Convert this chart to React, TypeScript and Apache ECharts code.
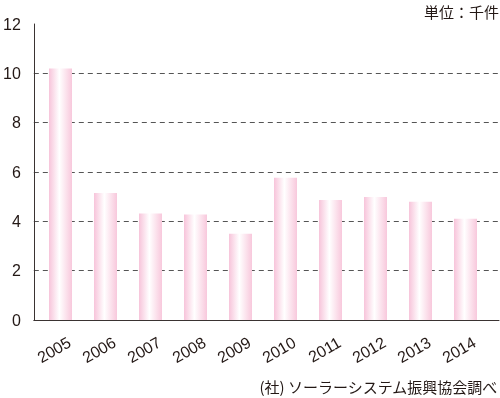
import React, { useEffect, useRef } from "react";
import * as echarts from "echarts";

const categories = ["2005", "2006", "2007", "2008", "2009", "2010", "2011", "2012", "2013", "2014"];
const values = [10.2, 5.15, 4.32, 4.28, 3.5, 5.77, 4.86, 4.99, 4.79, 4.1];
const yTicks = { min: 0, max: 12, interval: 2 };
const unitText = "単位：千件";
const sourceText = "(社) ソーラーシステム振興協会調べ";

export default function App() {
  const ref = useRef<HTMLDivElement>(null);
  useEffect(() => {
    if (!ref.current) return;
    const chart = echarts.init(ref.current, null, { renderer: "svg" });
    const font = "'Liberation Sans', Arial, sans-serif";
    const cjk = "'Noto Sans CJK JP', sans-serif";
    const textColor = "#231815";
    chart.setOption({
      animation: false,
      grid: [
        { left: 29, right: 1, top: 24, bottom: 78 },
        { left: 38, right: 12, top: 24, bottom: 78 },
        { left: 47, right: 3, top: 24, bottom: 78 },
      ],
      xAxis: [
        {
          gridIndex: 0,
          type: "value",
          min: 0,
          max: 1,
          axisLine: { show: true, onZero: false, lineStyle: { color: "#3a3332", width: 1 } },
          axisTick: { show: false },
          axisLabel: { show: false },
          splitLine: { show: false },
        },
        {
          gridIndex: 1,
          type: "category",
          data: categories,
          axisLine: { show: false },
          axisTick: { show: false },
          axisLabel: { show: false },
        },
        {
          gridIndex: 2,
          type: "category",
          data: categories,
          axisLine: { show: false },
          axisTick: { show: false },
          axisLabel: {
            rotate: 30,
            margin: 21,
            color: textColor,
            fontSize: 16,
            fontFamily: font,
          },
        },
      ],
      yAxis: [
        {
          gridIndex: 0,
          type: "value",
          min: yTicks.min,
          max: yTicks.max,
          interval: yTicks.interval,
          axisLine: { show: true, lineStyle: { color: "#3a3332", width: 1 } },
          axisTick: { show: false },
          axisLabel: { color: textColor, fontSize: 16, fontFamily: font, margin: 13 },
          splitLine: {
            show: true,
            showMinLine: false,
            showMaxLine: false,
            lineStyle: { type: [5, 4], color: "#555", width: 1 },
          },
        },
        {
          gridIndex: 1,
          type: "value",
          min: yTicks.min,
          max: yTicks.max,
          interval: yTicks.interval,
          show: false,
        },
        {
          gridIndex: 2,
          type: "value",
          min: yTicks.min,
          max: yTicks.max,
          interval: yTicks.interval,
          show: false,
        },
      ],
      series: [
        {
          type: "bar",
          xAxisIndex: 1,
          yAxisIndex: 1,
          data: values,
          barWidth: 23,
          itemStyle: {
            color: new echarts.graphic.LinearGradient(0, 0, 1, 0, [
              { offset: 0, color: "#f7c4da" },
              { offset: 0.45, color: "#ffffff" },
              { offset: 1, color: "#f8c8dc" },
            ]),
          },
        },
      ],
      graphic: [
        {
          type: "text",
          right: 1,
          top: 4,
          style: { text: unitText, fontSize: 15, fill: textColor, fontFamily: cjk },
        },
        {
          type: "text",
          right: 2,
          top: 379,
          style: { text: sourceText, fontSize: 15, fill: textColor, fontFamily: cjk },
        },
      ],
    });
    return () => chart.dispose();
  }, []);
  return <div ref={ref} style={{ position: "fixed", left: 0, top: 0, width: 500, height: 398 }} />;
}
